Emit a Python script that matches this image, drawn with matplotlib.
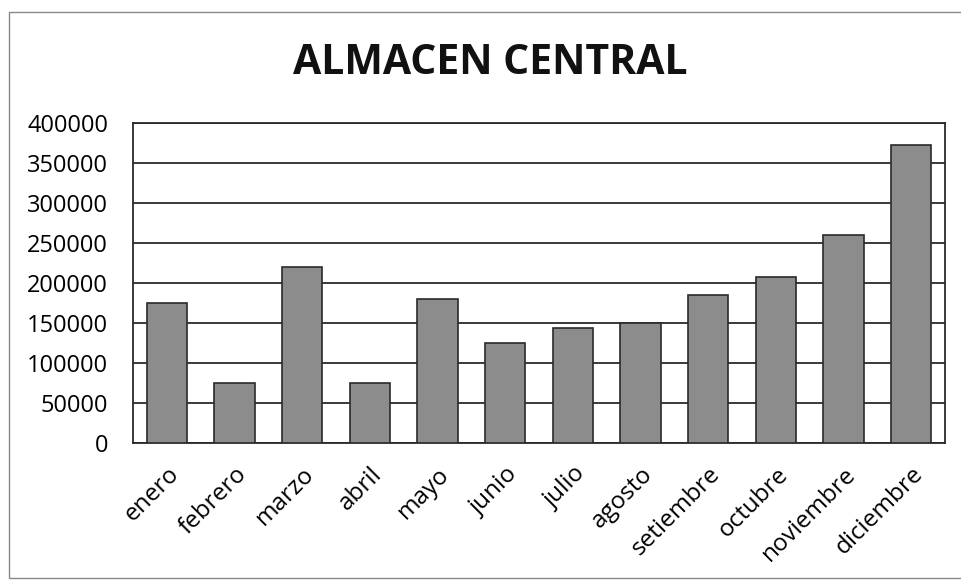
import matplotlib
matplotlib.use("Agg")
import matplotlib.pyplot as plt
from matplotlib.patches import Rectangle

meses = ["enero", "febrero", "marzo", "abril", "mayo", "junio", "julio",
         "agosto", "setiembre", "octubre", "noviembre", "diciembre"]
ventas = [175000, 75000, 220000, 75000, 180000, 125000, 144000,
          150000, 185000, 208000, 260000, 372000]
yticks = [0, 50000, 100000, 150000, 200000, 250000, 300000, 350000, 400000]
titulo = "ALMACEN CENTRAL"

plt.rcParams['font.family'] = ['Open Sans', 'DejaVu Sans']

fig = plt.figure(figsize=(9.62, 5.8), dpi=100)
fig.patch.set_facecolor("white")
ax = fig.add_axes([133/962, 1 - 443/580, (945-133)/962, (443-123)/580])

x = list(range(len(meses)))
ax.bar(x, ventas, width=0.6, color="#8c8c8c", edgecolor="#2a2a2a",
       linewidth=1.2, zorder=3)
ax.set_xlim(-0.5, len(meses) - 0.5)
ax.set_ylim(0, 400000)
ax.set_yticks(yticks)
ax.set_yticklabels([str(v) for v in yticks], fontsize=17)
ax.yaxis.grid(True, color="#2a2a2a", linewidth=1.3, zorder=0)
ax.set_axisbelow(True)
ax.set_xticks(x)
ax.set_xticklabels(meses, rotation=45, ha="right", rotation_mode="anchor",
                   fontsize=17.5)
ax.tick_params(axis="y", length=0, pad=18)
ax.tick_params(axis="x", length=0, pad=14)
for s in ax.spines.values():
    s.set_color("#2a2a2a")
    s.set_linewidth(1.3)

fig.text(490/962, 1 - 63/580, titulo, ha="center", va="center",
         fontsize=29.5, fontweight="bold", color="#111111")

# outer chart frame (right side runs off the image)
fig.patches.append(Rectangle((9/962, 1 - 578/580), 1.2, (578-12)/580,
                             transform=fig.transFigure, fill=False,
                             edgecolor="#888888", linewidth=1.0))

fig.savefig("out.png", dpi=100)
